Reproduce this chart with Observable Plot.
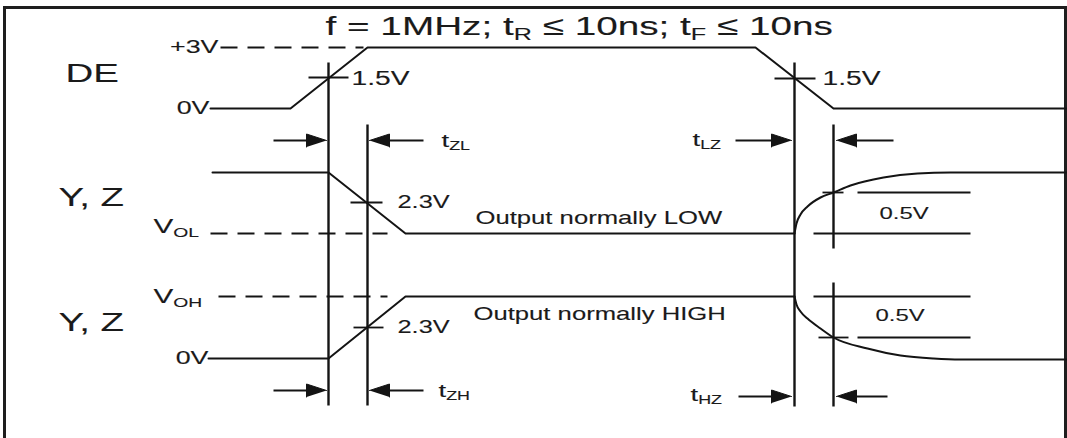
<!DOCTYPE html>
<html><head><meta charset="utf-8">
<script src="https://cdn.jsdelivr.net/npm/d3@7"></script>
<script src="https://cdn.jsdelivr.net/npm/@observablehq/plot@0.6"></script>
<style>html,body{margin:0;padding:0;background:#fff;overflow:hidden}#chart svg{display:block}</style>
</head><body><div id="chart"></div>
<script>
// ---- Diagram values (time position t, level v in diagram units) ----
const deWave = [
  {t:210,v:108},{t:290,v:108},{t:367,v:47},{t:755,v:47},{t:833,v:108},{t:1066,v:108}
];
const yzLowWave = [
  {t:212,v:172},{t:328,v:172},{t:405,v:233},{t:794,v:233}
];
const yzHighWave = [
  {t:208,v:358},{t:328,v:358},{t:405,v:296},{t:794,v:296}
];
const yzLowRelease = [
  {t:794,v:233},{t:796,v:223},{t:800,v:214},{t:807,v:206},{t:820,v:197},{t:833,v:192},
  {t:850,v:185},{t:883,v:177},{t:917,v:173},{t:950,v:172},{t:1066,v:172}
];
const yzHighRelease = [
  {t:794,v:296},{t:796,v:304},{t:800,v:311},{t:807,v:318},{t:820,v:328},{t:833,v:337},
  {t:867,v:348},{t:900,v:355},{t:933,v:358},{t:960,v:359},{t:1066,v:359}
];
const refLevels = [
  {t1:220,t2:363,v:47},{t1:210,t2:387,v:233},{t1:218,t2:387,v:296}
];
const timingMarkers = [
  {t:328,v1:62,v2:405},{t:367,v1:124,v2:405},
  {t:794,v1:62,v2:406},{t:833,v1:124,v2:248},{t:833,v1:282,v2:406}
];
const thresholdTicks = [
  {t1:308,t2:348,v:77},{t1:774,t2:815,v:78},
  {t1:350,t2:382,v:202},{t1:353,t2:383,v:327}
];
const hizLevels = [
  {t1:822,t2:843,v:192},{t1:857,t2:970,v:192},{t1:813,t2:970,v:233},
  {t1:813,t2:970,v:296},{t1:818,t2:848,v:337},{t1:857,t2:970,v:337}
];
const arrows = [
  {from:273,to:326,v:140},{from:423,to:369,v:140},
  {from:273,to:326,v:390},{from:423,to:369,v:390},
  {from:735,to:791,v:140},{from:893,to:836,v:140},
  {from:738,to:791,v:396},{from:887,to:836,v:396}
];
const frameBox = [{t1:4.5,t2:1065.5,v1:7.5,v2:460}];

// ---- Texts ----
const titleText = [{t:325,v:26,text:"f = 1MHz; t_{R} ≤ 10ns; t_{F} ≤ 10ns"}];
const rowNames = [{t:65,v:73,text:"DE"},{t:58,v:197,text:"Y, Z"},{t:58,v:322,text:"Y, Z"}];
const levelNames = [{t:218,v:47,text:"+3V"},{t:209,v:108,text:"0V"},{t:208,v:358,text:"0V"}];
const outputLevelNames = [{t:153,v:226,text:"V_{OL}"},{t:153,v:296,text:"V_{OH}"}];
const deThresholds = [{t:351,v:78,text:"1.5V"},{t:822,v:78,text:"1.5V"}];
const yzThresholds = [{t:397,v:202,text:"2.3V"},{t:397,v:327,text:"2.3V"}];
const hizThresholds = [{t:879,v:213,text:"0.5V"},{t:875,v:315,text:"0.5V"}];
const notes = [{t:475,v:218,text:"Output normally LOW"},{t:473,v:314,text:"Output normally HIGH"}];
const timingNames = [
  {t:441,v:140,text:"t_{ZL}"},{t:438,v:390,text:"t_{ZH}"},
  {t:692,v:139,text:"t_{LZ}"},{t:690,v:394,text:"t_{HZ}"}
];

// ---- Styles ----
const W = 1067, H = 438;
const INK = "#141414";
const FONT = "Liberation Sans, Arial, sans-serif";
const STRETCH = 1.45;
const HEAD_L = 20, HEAD_W = 6.5;

const arrowHeads = arrows.flatMap((a, i) => {
  const d = Math.sign(a.to - a.from);
  return [
    {t:a.to, v:a.v, id:i},
    {t:a.to - d*HEAD_L, v:a.v - HEAD_W, id:i},
    {t:a.to - d*HEAD_L, v:a.v + HEAD_W, id:i}
  ];
});
const arrowShafts = arrows.map(a => ({t1:a.from, t2:a.to - Math.sign(a.to - a.from)*HEAD_L*0.8, v:a.v}));

const txt = (data, size, anchor="start") => Plot.text(data, {
  x:"t", y:"v", text:"text", textAnchor:anchor, fontSize:size, fill:"#1a1a1a",
  stroke:"#1a1a1a", strokeWidth:0.12, fontFamily:FONT
});

const svg = Plot.plot({
  width: W, height: H,
  marginTop:0, marginRight:0, marginBottom:0, marginLeft:0,
  x: {domain:[0,W], range:[0,W], axis:null},
  y: {domain:[0,H], range:[0,H], axis:null},
  style: {background:"#fff"},
  marks: [
    Plot.rect(frameBox, {x1:"t1", x2:"t2", y1:"v1", y2:"v2", fill:"none", stroke:"#1e1e1e", strokeWidth:3}),
    Plot.link(refLevels, {x1:"t1", x2:"t2", y1:"v", y2:"v", stroke:INK, strokeWidth:1.8, strokeDasharray:"17,10"}),
    Plot.link(timingMarkers, {x1:"t", x2:"t", y1:"v1", y2:"v2", stroke:INK, strokeWidth:2.4}),
    Plot.link(thresholdTicks, {x1:"t1", x2:"t2", y1:"v", y2:"v", stroke:INK, strokeWidth:1.8}),
    Plot.link(hizLevels, {x1:"t1", x2:"t2", y1:"v", y2:"v", stroke:INK, strokeWidth:1.8}),
    Plot.line(deWave, {x:"t", y:"v", stroke:INK, strokeWidth:2}),
    Plot.line(yzLowWave, {x:"t", y:"v", stroke:INK, strokeWidth:2}),
    Plot.line(yzHighWave, {x:"t", y:"v", stroke:INK, strokeWidth:2}),
    Plot.line(yzLowRelease, {x:"t", y:"v", stroke:INK, strokeWidth:2, curve:"monotone-x"}),
    Plot.line(yzHighRelease, {x:"t", y:"v", stroke:INK, strokeWidth:2, curve:"monotone-x"}),
    Plot.link(arrowShafts, {x1:"t1", x2:"t2", y1:"v", y2:"v", stroke:INK, strokeWidth:2}),
    Plot.line(arrowHeads, {x:"t", y:"v", z:"id", fill:INK, stroke:INK, strokeWidth:1}),
    txt(titleText, 26.7),
    txt(rowNames, 26.5),
    txt(levelNames, 18.5, "end"),
    txt(outputLevelNames, 20.5),
    txt(deThresholds, 19.5),
    txt(yzThresholds, 17.5),
    txt(hizThresholds, 16.5),
    txt(notes, 17.7),
    txt(timingNames, 19)
  ]
});

document.getElementById("chart").appendChild(svg);

// Horizontal stretch of the lettering and subscripts
const SUB = 0.65, SHIFT = 0.28;
d3.select(svg).selectAll("text").each(function() {
  const tr = this.getAttribute("transform") || "";
  this.setAttribute("transform", tr + ` scale(${STRETCH},1)`);
  const s = this.textContent;
  if (!s.includes("_{")) return;
  const parts = s.split(/(_\{[^}]*\})/).filter(p => p.length);
  while (this.firstChild) this.removeChild(this.firstChild);
  let prevSub = false;
  for (const p of parts) {
    const ts = document.createElementNS("http://www.w3.org/2000/svg", "tspan");
    if (p.startsWith("_{")) {
      ts.textContent = p.slice(2, -1);
      ts.style.fontSize = (SUB*100) + "%";
      ts.setAttribute("dy", SHIFT + "em");
      prevSub = true;
    } else {
      ts.textContent = p;
      if (prevSub) ts.setAttribute("dy", (-SHIFT*SUB) + "em");
      prevSub = false;
    }
    this.appendChild(ts);
  }
});
</script>
</body></html>
